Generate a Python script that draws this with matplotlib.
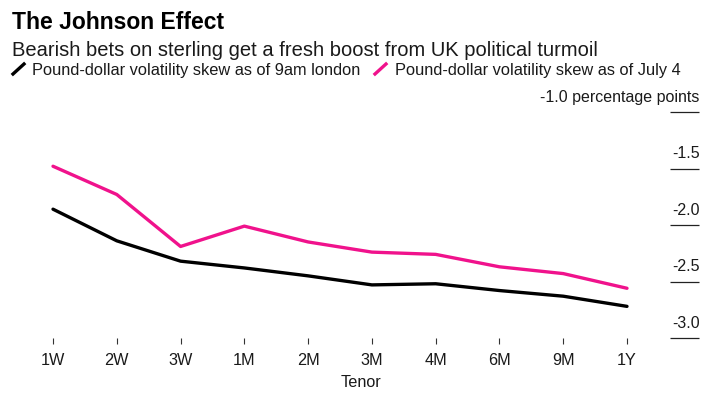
import matplotlib
matplotlib.use('Agg')
from matplotlib import pyplot as plt
from matplotlib.lines import Line2D
from matplotlib.transforms import ScaledTranslation

plt.rcParams['font.family'] = ['Liberation Sans', 'DejaVu Sans']

tenors = ['1W', '2W', '3W', '1M', '2M', '3M', '4M', '6M', '9M', '1Y']
skew_today = [-1.86, -2.14, -2.32, -2.38, -2.45, -2.53, -2.52, -2.58, -2.63, -2.72]
skew_july4 = [-1.48, -1.73, -2.19, -2.01, -2.15, -2.24, -2.26, -2.37, -2.43, -2.56]
y_ticks = [-1.0, -1.5, -2.0, -2.5, -3.0]
y_labels = ['-1.0 percentage points', '-1.5', '-2.0', '-2.5', '-3.0']

BLACK = '#000000'
PINK = '#f0128c'
TEXT = '#1a1a1a'
W, H = 724, 412

fig = plt.figure(figsize=(W / 100, H / 100), dpi=100)


def fx(px):
    return px / W


def fy(px):
    return 1 - px / H


# axes box in pixels: x tick 1W at 53, 1Y at 627, y -1.0 at 112, -3.0 at 338
left, right, top, bottom = 21, 670, 112, 338
ax = fig.add_axes([fx(left), fy(bottom), fx(right - left), (bottom - top) / H])

x = list(range(len(tenors)))
ax.plot(x, skew_today, color=BLACK, lw=2.4, solid_capstyle='round')
ax.plot(x, skew_july4, color=PINK, lw=2.4, solid_capstyle='round')

step = (627 - 53) / 9
ax.set_xlim(-(53 - left) / step, 9 + (right - 627) / step)
ax.set_ylim(-3.0, -1.0)
ax.set_xticks(x, tenors)
ax.set_yticks(y_ticks, y_labels)

for s in ax.spines.values():
    s.set_visible(False)
ax.tick_params(axis='x', length=4.5, width=0.8, color='#333333', labelsize=11.7,
               labelcolor=TEXT, pad=6.5)
ax.yaxis.tick_right()
ax.tick_params(axis='y', length=21, width=0.9, color='#222222', labelsize=11.5,
               labelcolor=TEXT, pad=0.2)
for lab in ax.get_yticklabels():
    lab.set_ha('right')
    lab.set_va('bottom')
    lab.set_transform(lab.get_transform() + ScaledTranslation(0, 5.3 / 72, fig.dpi_scale_trans))
ax.set_xlabel('Tenor', fontsize=11.7, color=TEXT)
ax.xaxis.set_label_coords((361 - left) / (right - left), -0.165)

fig.text(fx(12), fy(29), 'The Johnson Effect', fontsize=16.5, fontweight='bold', color='black', va='baseline')
fig.text(fx(12), fy(56), 'Bearish bets on sterling get a fresh boost from UK political turmoil',
         fontsize=14.5, color=TEXT, va='baseline')
fig.text(fx(32), fy(75), 'Pound-dollar volatility skew as of 9am london', fontsize=11.75, color=TEXT, va='baseline')
fig.text(fx(395), fy(75), 'Pound-dollar volatility skew as of July 4', fontsize=11.75, color=TEXT, va='baseline')

# legend keys are short diagonal strokes
for x0, col in [(13, BLACK), (375, PINK)]:
    fig.add_artist(Line2D([fx(x0), fx(x0 + 11)], [fy(74), fy(64)], color=col, lw=2.4,
                          transform=fig.transFigure))

fig.savefig('out.png', dpi=100)
